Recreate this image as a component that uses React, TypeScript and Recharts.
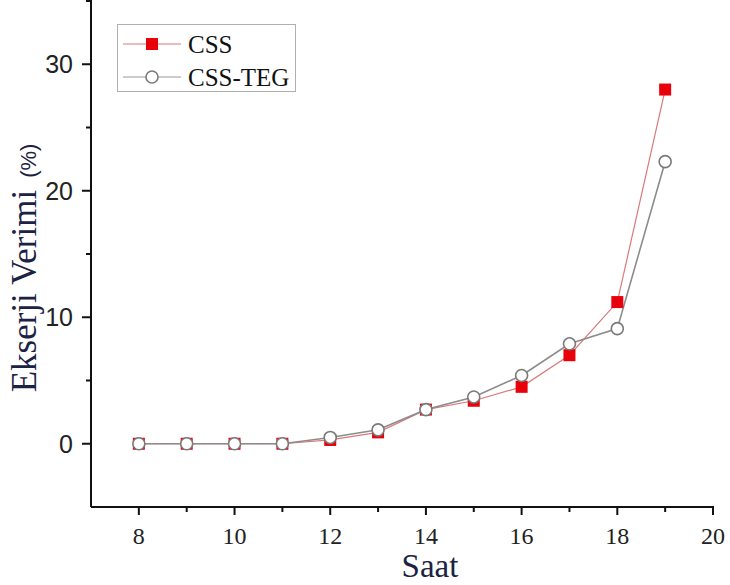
import React from 'react';
import { LineChart, Line, XAxis, YAxis, Label } from 'recharts';

// Saat (x) ve ekserji verimi (%) değerleri
const hours = [8, 9, 10, 11, 12, 13, 14, 15, 16, 17, 18, 19];
const cssValues = [0, 0, 0, 0, 0.3, 0.9, 2.7, 3.4, 4.5, 7.0, 11.2, 28.0];
const cssTegValues = [0, 0, 0, 0, 0.5, 1.1, 2.7, 3.7, 5.4, 7.9, 9.1, 22.3];

const xTicks = [8, 9, 10, 11, 12, 13, 14, 15, 16, 17, 18, 19, 20];
const yTicks = [0, 5, 10, 15, 20, 25, 30, 35];
const yLabeled = [0, 10, 20, 30];

const data = hours.map((h, i) => ({ hour: h, css: cssValues[i], cssTeg: cssTegValues[i] }));

const SERIF = '"Liberation Serif", "Times New Roman", serif';
const SANS = '"Liberation Sans", Arial, sans-serif';

const XTick = (props: any) => {
  const { x, y, payload } = props;
  const major = payload.value % 2 === 0;
  return (
    <g>
      <line x1={x} x2={x} y1={y - 1} y2={y + (major ? 8 : 5)} stroke="#111" strokeWidth={2} />
      {major && (
        <text x={x} y={y + 37} textAnchor="middle" fontFamily={SERIF} fontSize={24} fill="#222">
          {payload.value}
        </text>
      )}
    </g>
  );
};

const YTick = (props: any) => {
  const { x, y, payload } = props;
  const major = yLabeled.includes(payload.value);
  return (
    <g>
      <line x1={x - (major ? 9 : 5)} x2={x + 1} y1={y} y2={y} stroke="#111" strokeWidth={2} />
      {major && (
        <text x={x - 18} y={y + 9} textAnchor="end" fontFamily={SANS} fontSize={25} fill="#222">
          {payload.value}
        </text>
      )}
    </g>
  );
};

const SquareDot = (props: any) => {
  const { cx, cy, index } = props;
  return <rect key={`s-${index}`} x={cx - 6} y={cy - 6} width={12} height={12} fill="#e8000b" />;
};

const CircleDot = (props: any) => {
  const { cx, cy, index } = props;
  return <circle key={`c-${index}`} cx={cx} cy={cy} r={6} fill="#fff" stroke="#7a7a7a" strokeWidth={1.6} />;
};

const LegendBox = () => (
  <div
    style={{
      position: 'absolute',
      left: 117,
      top: 24,
      width: 179,
      height: 68,
      border: '1px solid #b0b0b0',
      background: '#fff',
      boxSizing: 'border-box',
    }}
  >
    <svg width={177} height={66} style={{ display: 'block' }}>
      <line x1={5} x2={63} y1={19} y2={19} stroke="#d97a7a" strokeWidth={1.2} />
      <rect x={28} y={13} width={12} height={12} fill="#e8000b" />
      <text x={70} y={28} fontFamily={SERIF} fontSize={25} fill="#111">CSS</text>
      <line x1={5} x2={63} y1={52} y2={52} stroke="#999" strokeWidth={1.2} />
      <circle cx={34} cy={52} r={6} fill="#fff" stroke="#7a7a7a" strokeWidth={1.6} />
      <text x={70} y={61} fontFamily={SERIF} fontSize={25} fill="#111">CSS-TEG</text>
    </svg>
  </div>
);

const YTitle = () => (
  <text x={36} y={268} transform="rotate(-90, 36, 268)" textAnchor="middle" fill="#1c2244">
    <tspan fontFamily={SERIF} fontSize={35}>Ekserji Verimi</tspan>
    <tspan fontFamily={SANS} fontSize={22} dx={12}>(%)</tspan>
  </text>
);

const XTitle = () => (
  <text x={430} y={577} textAnchor="middle" fontFamily={SERIF} fontSize={33} fill="#1c2244">
    Saat
  </text>
);

export default function App() {
  return (
    <div style={{ position: 'absolute', left: 0, top: 0, width: 730, height: 585, background: '#fff' }}>
      <LineChart width={730} height={585} data={data} margin={{ top: 1, right: 17, bottom: 0, left: 0 }}>
        <XAxis
          dataKey="hour"
          type="number"
          domain={[7, 20]}
          ticks={xTicks}
          interval={0}
          height={78}
          tickSize={0}
          tickMargin={0}
          tickLine={false}
          axisLine={{ stroke: '#111', strokeWidth: 2 }}
          tick={XTick}
        >
          <Label content={XTitle} />
        </XAxis>
        <YAxis
          type="number"
          domain={[-5, 35]}
          ticks={yTicks}
          interval={0}
          width={91}
          tickSize={0}
          tickMargin={0}
          tickLine={false}
          axisLine={{ stroke: '#111', strokeWidth: 2 }}
          tick={YTick}
        >
          <Label content={YTitle} />
        </YAxis>
        <Line
          type="linear"
          dataKey="css"
          name="CSS"
          stroke="#d97a7a"
          strokeWidth={1.2}
          dot={SquareDot}
          isAnimationActive={false}
        />
        <Line
          type="linear"
          dataKey="cssTeg"
          name="CSS-TEG"
          stroke="#8c8c8c"
          strokeWidth={1.6}
          dot={CircleDot}
          isAnimationActive={false}
        />
      </LineChart>
      <LegendBox />
    </div>
  );
}
